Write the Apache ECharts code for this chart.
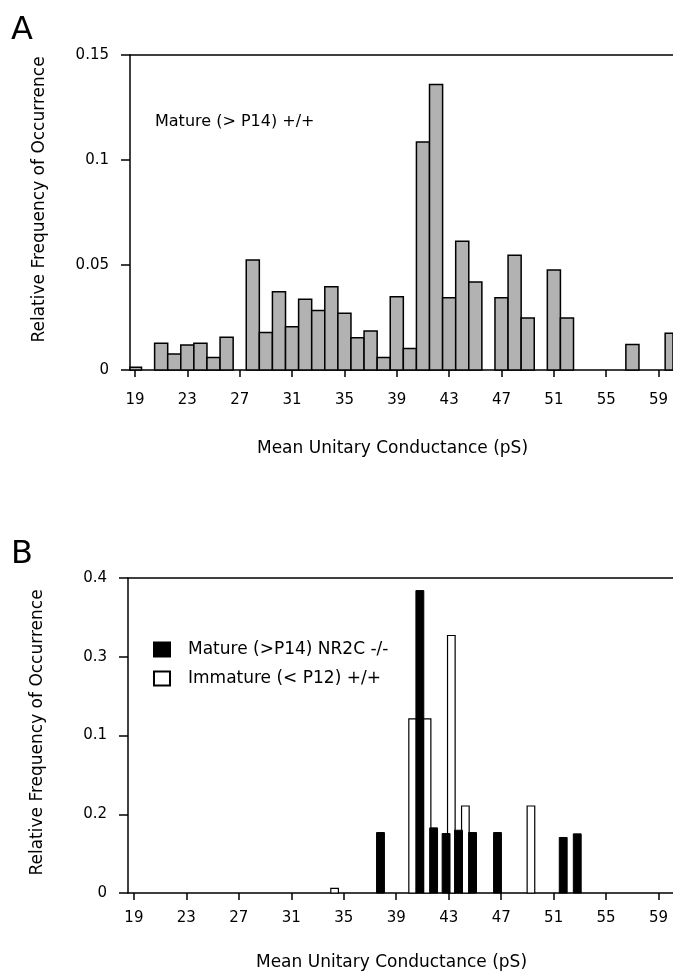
<!DOCTYPE html>
<html>
<head>
<meta charset="utf-8">
<script src="https://cdn.jsdelivr.net/npm/echarts@6/dist/echarts.min.js"></script>
<style>html,body{margin:0;padding:0;background:#fff;}#c{width:673px;height:972px;}</style>
</head>
<body>
<div id="c"></div>
<script>
// ---- Data ----
const xTickValues = [19, 23, 27, 31, 35, 39, 43, 47, 51, 55, 59];
const yTickLabelsA = ['0', '0.05', '0.1', '0.15'];
const yTickLabelsB = ['0', '0.2', '0.1', '0.3', '0.4'];

// Panel A: bin centres (pS) and relative frequency
const binsA = [19,20,21,22,23,24,25,26,27,28,29,30,31,32,33,34,35,36,37,38,39,40,
               41,42,43,44,45,46,47,48,49,50,51,52,53,54,55,56,57,58,59,60];
const freqA = [0.0013,0,0.0127,0.0076,0.0119,0.0127,0.0059,0.0156,0,0.0524,0.0178,0.0373,
               0.0206,0.0337,0.0283,0.0397,0.027,0.0154,0.0186,0.0059,0.0349,0.0102,
               0.1086,0.136,0.0344,0.0613,0.0419,0,0.0344,0.0546,0.0248,0,0.0476,0.0248,
               0,0,0,0,0.0122,0,0,0.0175];

// Panel B: mature NR2C -/- (black) and immature +/+ (white)
const matureX = [37.8, 40.8, 41.85, 42.8, 43.75, 44.82, 46.72, 51.73, 52.8];
const matureY = [0.0768, 0.384, 0.0827, 0.0755, 0.0797, 0.0768, 0.0768, 0.0705, 0.0751];
const immatureX = [34.3, 40.25, 41.35, 43.2, 44.27, 49.27];
const immatureY = [0.006, 0.221, 0.221, 0.327, 0.1105, 0.1105];

const nameA = 'Mature (> P14) +/+';
const nameMature = 'Mature (>P14) NR2C -/-';
const nameImmature = 'Immature (< P12) +/+';

// ---- Chart ----
const FONT = 'DejaVu Sans';
const zip = (xs, ys) => xs.map((x, i) => [x, ys[i]]);

function histRender(width, fill, lw) {
  return function (params, api) {
    const x = api.value(0), y = api.value(1);
    if (!y) return;
    const p0 = api.coord([x - width / 2, 0]);
    const p1 = api.coord([x + width / 2, y]);
    const cs = params.coordSys;
    const rect = echarts.graphic.clipRectByRect(
      { x: p0[0], y: p1[1], width: p1[0] - p0[0], height: p0[1] - p1[1] },
      { x: cs.x, y: cs.y - 2, width: cs.width, height: cs.height + 2 });
    if (!rect) return;
    return { type: 'rect', shape: rect, style: { fill: fill, stroke: '#000', lineWidth: lw } };
  };
}

function bottomX(gridIndex, min, labelMargin, nameGap) {
  return {
    type: 'value', gridIndex: gridIndex, min: min, max: 60.1, position: 'bottom',
    axisLine: { show: true, onZero: false, lineStyle: { color: '#000', width: 1.5 } },
    axisTick: { show: true, length: 7, customValues: xTickValues, lineStyle: { color: '#000', width: 1.5 } },
    axisLabel: { customValues: xTickValues, margin: labelMargin, color: '#000', fontFamily: FONT, fontSize: 15 },
    splitLine: { show: false },
    name: 'Mean Unitary Conductance (pS)', nameLocation: 'middle', nameGap: nameGap,
    nameTextStyle: { color: '#000', fontFamily: FONT, fontSize: 17, padding: [0, 18, 0, 0] }
  };
}
function topX(gridIndex, min) {
  return {
    type: 'value', gridIndex: gridIndex, min: min, max: 60.1, position: 'top',
    axisLine: { show: true, onZero: false, lineStyle: { color: '#000', width: 1.5 } },
    axisTick: { show: false }, axisLabel: { show: false }, splitLine: { show: false }
  };
}
function leftY(gridIndex, max, labels, shiftPad) {
  return {
    type: 'value', gridIndex: gridIndex, min: 0, max: max, interval: max === 0.15 ? 0.05 : 0.1,
    axisLine: { show: true, onZero: false, lineStyle: { color: '#000', width: 1.5 } },
    axisTick: { show: true, length: 9, lineStyle: { color: '#000', width: 1.5 } },
    axisLabel: { margin: 21, color: '#000', fontFamily: FONT, fontSize: 15,
                 formatter: function (v, i) { return labels[i]; } },
    splitLine: { show: false },
    name: 'Relative Frequency of Occurrence', nameLocation: 'middle', nameGap: 82,
    nameTextStyle: { color: '#000', fontFamily: FONT, fontSize: 17, padding: [0, 0, 0, shiftPad] }
  };
}

const chart = echarts.init(document.getElementById('c'), null, { renderer: 'canvas' });
chart.setOption({
  backgroundColor: '#fff',
  animation: false,
  textStyle: { fontFamily: FONT, color: '#000' },
  title: [
    { text: 'A', left: 6, top: 10, textStyle: { fontFamily: FONT, fontSize: 32, fontWeight: 'normal', color: '#000' } },
    { text: 'B', left: 6, top: 534, textStyle: { fontFamily: FONT, fontSize: 32, fontWeight: 'normal', color: '#000' } },
    { text: nameA, left: 150, top: 109, textStyle: { fontFamily: FONT, fontSize: 16, fontWeight: 'normal', color: '#000' } }
  ],
  legend: {
    data: [
      { name: nameMature, icon: 'rect' },
      { name: nameImmature, icon: 'rect' }
    ],
    orient: 'vertical', left: 148, top: 636, itemWidth: 16, itemHeight: 14, itemGap: 12,
    selectedMode: false,
    textStyle: { fontFamily: FONT, fontSize: 17, color: '#000', padding: [0, 0, 0, 13] }
  },
  grid: [
    { left: 130, top: 55, right: 0, bottom: 602, containLabel: false },
    { left: 128, top: 578, right: 0, bottom: 78, containLabel: false }
  ],
  xAxis: [ bottomX(0, 18.62, 23, 70), topX(0, 18.62), bottomX(1, 18.55, 18, 61), topX(1, 18.55) ],
  yAxis: [ leftY(0, 0.15, yTickLabelsA, 26), leftY(1, 0.4, yTickLabelsB, 6) ],
  series: [
    { type: 'custom', name: nameA, xAxisIndex: 0, yAxisIndex: 0,
      renderItem: histRender(1, '#b2b2b2', 1.5), data: zip(binsA, freqA),
      itemStyle: { color: '#b2b2b2' } },
    { type: 'custom', name: nameImmature, xAxisIndex: 2, yAxisIndex: 1,
      renderItem: histRender(0.58, '#fff', 1.2), data: zip(immatureX, immatureY),
      itemStyle: { color: '#fff', borderColor: '#000', borderWidth: 1.5 } },
    { type: 'custom', name: nameMature, xAxisIndex: 2, yAxisIndex: 1,
      renderItem: histRender(0.6, '#000', 1), data: zip(matureX, matureY),
      itemStyle: { color: '#000', borderColor: '#000', borderWidth: 1 } }
  ]
});
</script>
</body>
</html>
